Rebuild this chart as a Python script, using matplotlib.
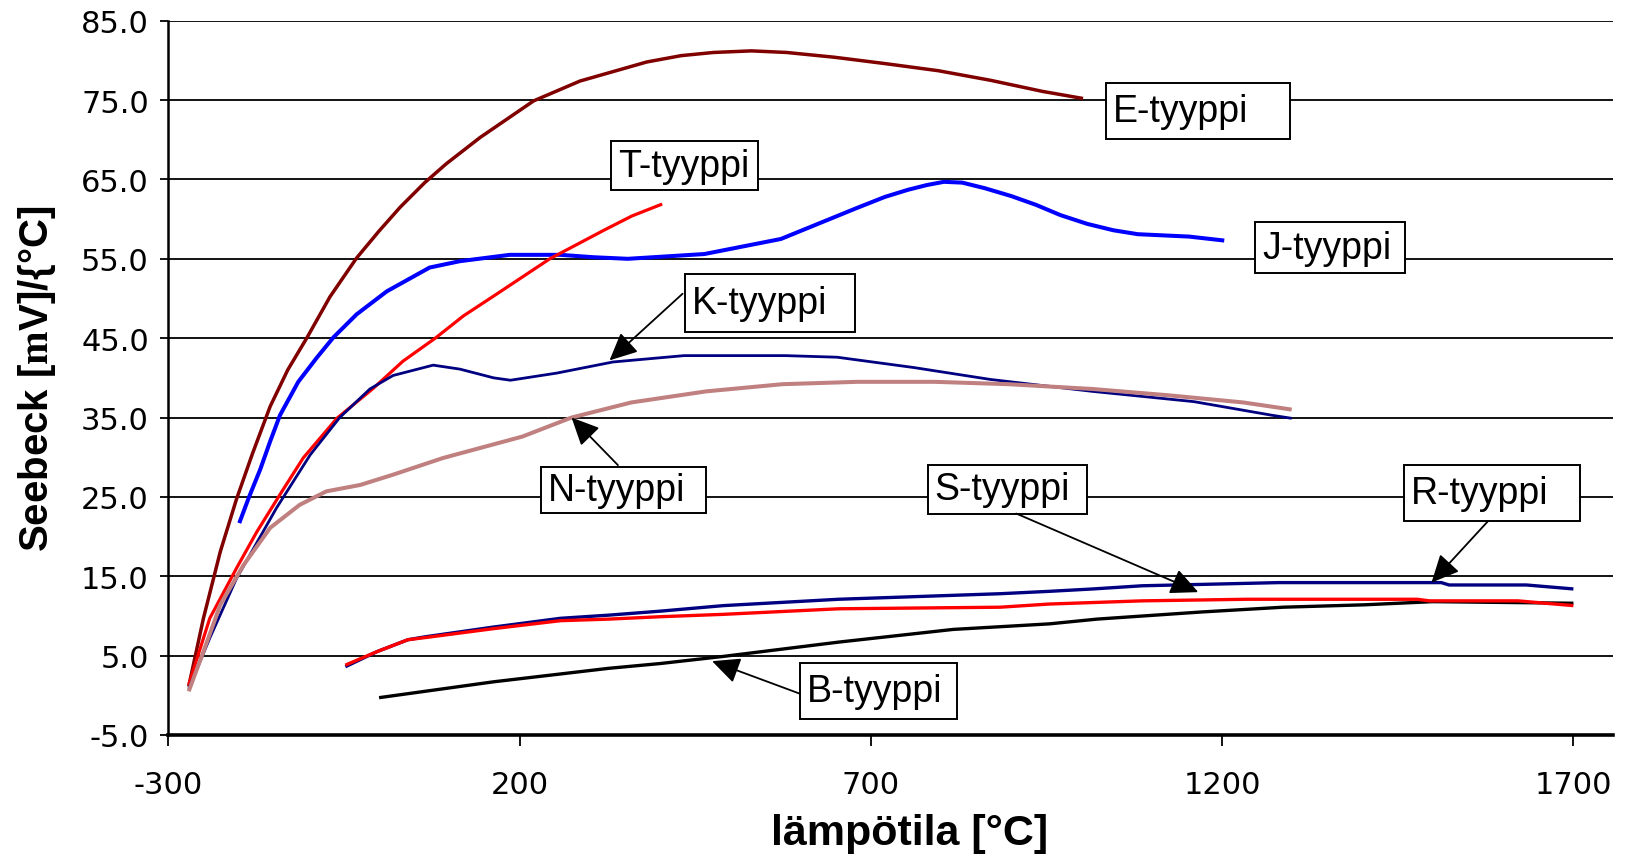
import matplotlib
matplotlib.use("Agg")
import matplotlib.pyplot as plt
from matplotlib.patches import Rectangle

# ---------------- data ----------------
E_x = [-271, -250, -226, -203, -180, -155, -130, -103, -70, -32, 0, 30, 65, 96, 144, 220, 286, 381, 430, 476, 530, 580, 648, 720, 796, 870, 944, 1002]
E_y = [1.1, 9.7, 18.1, 24.7, 30.5, 36.4, 41.0, 45.0, 50.2, 55.1, 58.5, 61.5, 64.6, 67.0, 70.3, 74.9, 77.4, 79.8, 80.6, 81.0, 81.2, 81.0, 80.4, 79.6, 78.7, 77.5, 76.1, 75.2]

T_x = [-271, -241, -203, -174, -141, -108, -60, -8, 34, 80, 120, 163, 243, 320, 360, 403]
T_y = [1.3, 9.7, 16.0, 20.6, 25.3, 29.9, 34.9, 38.7, 42.1, 45.0, 47.8, 50.3, 55.0, 58.6, 60.4, 61.9]

J_x = [-199, -185, -169, -155, -141, -115, -89, -65, -32, 11, 72, 115, 186, 258, 305, 354, 463, 572, 680, 720, 753, 780, 804, 830, 862, 900, 935, 970, 1008, 1045, 1080, 1153, 1203]
J_y = [21.7, 25.0, 28.5, 32.0, 35.3, 39.5, 42.5, 45.1, 48.0, 50.9, 53.9, 54.7, 55.5, 55.5, 55.2, 55.0, 55.6, 57.5, 61.4, 62.8, 63.7, 64.3, 64.7, 64.6, 63.9, 62.9, 61.8, 60.5, 59.4, 58.6, 58.1, 57.8, 57.3]

K_x = [-271, -241, -203, -146, -98, -56, -13, 20, 77, 115, 163, 187, 253, 333, 434, 579, 652, 761, 870, 1015, 1160, 1270, 1299]
K_y = [0.8, 7.2, 14.7, 23.6, 30.3, 35.0, 38.6, 40.3, 41.6, 41.1, 40.0, 39.7, 40.6, 42.0, 42.8, 42.8, 42.6, 41.3, 39.8, 38.3, 37.0, 35.3, 34.9]

N_x = [-271, -250, -226, -193, -155, -113, -75, -27, 20, 91, 204, 274, 359, 466, 574, 681, 790, 896, 1015, 1124, 1230, 1299]
N_y = [0.5, 5.5, 11.4, 16.4, 21.1, 24.0, 25.7, 26.5, 27.8, 29.9, 32.6, 35.0, 36.9, 38.3, 39.2, 39.5, 39.5, 39.2, 38.6, 37.8, 36.9, 36.0]

R_x = [-48, -3, 41, 68, 163, 258, 327, 400, 490, 654, 884, 954, 1016, 1086, 1281, 1512, 1523, 1633, 1700]
R_y = [3.6, 5.5, 7.0, 7.4, 8.6, 9.7, 10.1, 10.6, 11.3, 12.1, 12.8, 13.1, 13.4, 13.8, 14.2, 14.2, 13.9, 13.9, 13.4]

S_x = [-48, -3, 41, 68, 163, 258, 327, 400, 490, 654, 884, 954, 1086, 1235, 1478, 1495, 1621, 1660, 1700]
S_y = [3.8, 5.5, 7.0, 7.3, 8.4, 9.4, 9.6, 9.9, 10.2, 10.9, 11.1, 11.5, 11.9, 12.1, 12.1, 11.9, 11.9, 11.6, 11.3]

B_x = [0, 163, 327, 400, 490, 654, 817, 954, 1022, 1171, 1287, 1402, 1500, 1700]
B_y = [-0.3, 1.7, 3.4, 4.0, 4.9, 6.7, 8.3, 9.0, 9.6, 10.5, 11.1, 11.4, 11.8, 11.6]

x_ticks = [-300, 200, 700, 1200, 1700]
y_ticks = [-5, 5, 15, 25, 35, 45, 55, 65, 75, 85]

labels = ["E-tyyppi", "T-tyyppi", "J-tyyppi", "K-tyyppi", "N-tyyppi", "S-tyyppi", "R-tyyppi", "B-tyyppi"]

# ---------------- style / layout ----------------
plt.rcParams["axes.unicode_minus"] = False
plt.rcParams["mathtext.fontset"] = "custom"
plt.rcParams["mathtext.bf"] = "Liberation Serif:bold"
plt.rcParams["mathtext.rm"] = "Liberation Serif"

fig = plt.figure(figsize=(16.34, 8.62), dpi=100)
ax = fig.add_axes([0.103, 0.1462, 0.884, 0.8286])

series = [
    (E_x, E_y, "#800000", 2.5),
    (J_x, J_y, "#0000FF", 2.9),
    (T_x, T_y, "#FF0000", 2.3),
    (K_x, K_y, "#000080", 2.0),
    (N_x, N_y, "#C08080", 2.9),
    (B_x, B_y, "#000000", 2.4),
    (R_x, R_y, "#000080", 2.4),
    (S_x, S_y, "#FF0000", 2.4),
]
for xs, ys, col, lw in series:
    ax.plot(xs, ys, color=col, lw=lw, solid_capstyle="butt", solid_joinstyle="round", zorder=3)

ax.set_xlim(-300, 1756)
ax.set_ylim(-5, 85)
ax.set_xticks(x_ticks)
ax.set_yticks(y_ticks)
ax.set_yticklabels([f"{v:.1f}" for v in y_ticks])
ax.set_xticklabels([str(v) for v in x_ticks])

ax.grid(axis="y", color="black", lw=1.3, zorder=1)
ax.set_axisbelow(True)
for s in ["top", "right"]:
    ax.spines[s].set_visible(False)
ax.spines["left"].set_linewidth(1.8)
ax.spines["bottom"].set_linewidth(2.6)
ax.spines["left"].set_zorder(4)
ax.spines["bottom"].set_zorder(4)

ax.tick_params(axis="y", length=6, width=1.3, pad=8, labelsize=22)
ax.tick_params(axis="x", length=8, width=1.3, pad=17, labelsize=22)
for t in ax.get_xticklabels() + ax.get_yticklabels():
    t.set_fontfamily("DejaVu Sans")

ax.set_xlabel("lämpötila [°C]", fontsize=31, fontweight="bold", family="Liberation Sans")
ax.set_ylabel(r"Seebeck [$\mathbf{m}$V]/{°C]", fontsize=29, fontweight="bold", family="Liberation Sans")
ax.xaxis.set_label_coords(0.513, -0.137)
ax.xaxis.label.set_va("center")
ax.yaxis.set_label_coords(-0.091, 0.5)
ax.yaxis.label.set_va("center")

# label boxes: (x0, x1, y0, y1) in data units; arrows (tail -> head)
boxes = [
    (1034, 1296, 70.1, 77.2),
    (330, 540, 63.7, 69.8),
    (1247, 1460, 53.2, 59.6),
    (435, 678, 45.8, 53.1),
    (230, 466, 23.0, 28.8),
    (781, 1008, 22.9, 29.0),
    (1459, 1710, 21.9, 29.0),
    (599, 823, -3.0, 4.1),
]
arrows = {
    "K-tyyppi": ((432, 50.6), (328, 42.2)),
    "N-tyyppi": ((340, 29.0), (274, 35.0)),
    "S-tyyppi": ((907, 22.9), (1166, 13.0)),
    "R-tyyppi": ((1578, 21.9), (1498, 14.2)),
    "B-tyyppi": ((599, 0.2), (474, 4.3)),
}
for lab, (x0, x1, y0, y1) in zip(labels, boxes):
    ax.add_patch(Rectangle((x0, y0), x1 - x0, y1 - y0, facecolor="white",
                           edgecolor="black", lw=1.4, zorder=5, clip_on=False))
    ax.text(x0 + 10, (y0 + y1) / 2, lab, fontsize=27, family="Liberation Sans",
            ha="left", va="center", zorder=6, clip_on=False)
    if lab in arrows:
        tail, head = arrows[lab]
        ax.annotate("", xy=head, xytext=tail,
                    arrowprops=dict(arrowstyle="-|>,head_length=0.85,head_width=0.4",
                                    mutation_scale=20, color="black", lw=1.3,
                                    shrinkA=0, shrinkB=0),
                    zorder=6)

fig.savefig("out.png", dpi=100)
